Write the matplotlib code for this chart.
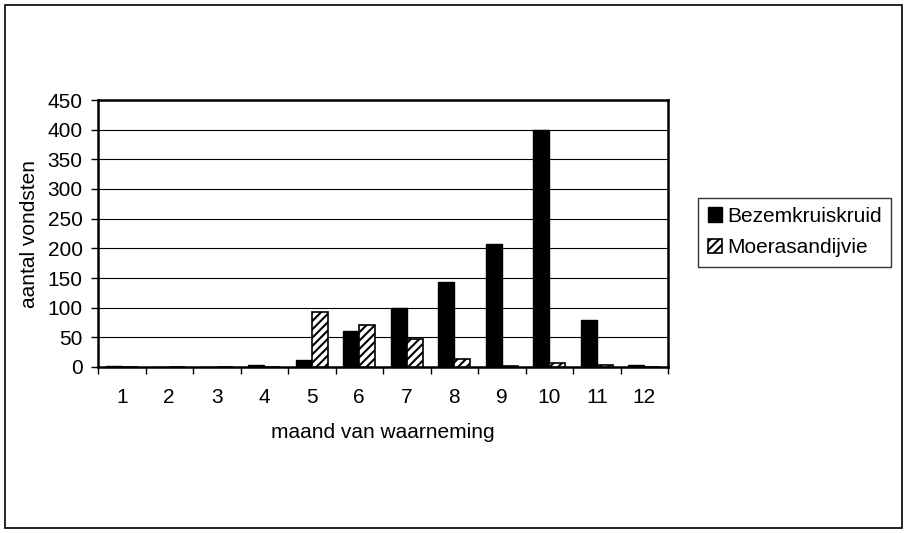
import matplotlib.pyplot as plt
import numpy as np
from matplotlib.patches import Rectangle

plt.rcParams['font.family'] = ['Liberation Sans', 'DejaVu Sans']
plt.rcParams['hatch.linewidth'] = 1.5

months = [1, 2, 3, 4, 5, 6, 7, 8, 9, 10, 11, 12]
bezemkruiskruid = [1, 0, 0, 3, 12, 60, 100, 143, 207, 400, 80, 3]
moerasandijvie = [0, 0, 0, 0, 93, 70, 48, 13, 2, 6, 3, 0]

fig = plt.figure(figsize=(9.06, 5.33), dpi=100)
ax = fig.add_axes([98 / 906, 1 - 367 / 533, 570 / 906, 267 / 533])

x = np.arange(len(months))
w = 0.34
ax.bar(x - w / 2, bezemkruiskruid, w, color='black', edgecolor='black',
       label='Bezemkruiskruid', zorder=3)
ax.bar(x + w / 2, moerasandijvie, w, color='white', edgecolor='black',
       hatch='////', linewidth=1.2, label='Moerasandijvie', zorder=3)

ax.set_xlim(-0.5, len(months) - 0.5)
ax.set_ylim(0, 450)
ax.set_yticks(range(0, 451, 50))
ax.yaxis.grid(True, color='black', linewidth=0.8, zorder=0)
ax.set_xticks(x)
ax.set_xticklabels([str(m) for m in months])
ax.set_xticks(np.arange(-0.5, len(months), 1), minor=True)
ax.tick_params(axis='x', which='major', length=0, pad=15, labelsize=15)
ax.tick_params(axis='x', which='minor', length=5, width=1, direction='out')
ax.tick_params(axis='y', length=5, width=1, direction='out', labelsize=15,
               pad=6)
for s in ax.spines.values():
    s.set_linewidth(1.8)

ax.set_xlabel('maand van waarneming', fontsize=15, labelpad=12)
ax.set_ylabel('aantal vondsten', fontsize=15, labelpad=6)

leg = ax.legend(loc='center left', bbox_to_anchor=(1.053, 0.505), fontsize=15,
                frameon=True, fancybox=False, edgecolor='black',
                handlelength=0.7, handleheight=0.7, handletextpad=0.25,
                borderpad=0.45, labelspacing=0.6, borderaxespad=0)
leg.get_frame().set_linewidth(1.0)

fig.patches.append(Rectangle((5 / 906, 5 / 533), 897 / 906, 523 / 533,
                             transform=fig.transFigure, fill=False,
                             edgecolor='black', linewidth=1.2))

fig.savefig('out.png', dpi=100)
